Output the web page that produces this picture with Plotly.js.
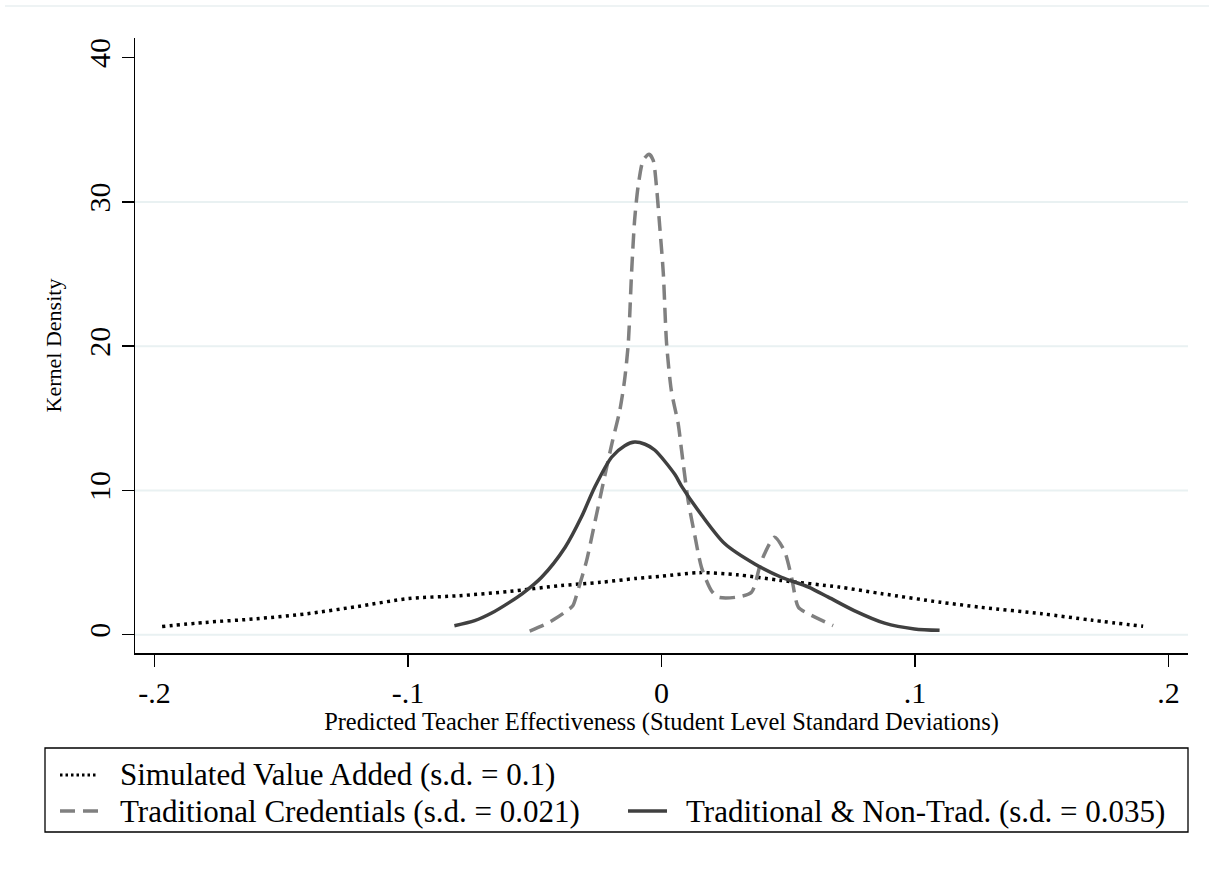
<!DOCTYPE html>
<html>
<head>
<meta charset="utf-8">
<script src="https://cdn.plot.ly/plotly-3.0.1.min.js"></script>
<style>
  html, body { margin: 0; padding: 0; background: #ffffff; }
  #chart { width: 1214px; height: 886px; }
</style>
</head>
<body>
<div id="chart"></div>
<script>
// ---- Data ----
const simX = [-0.197, -0.18, -0.16, -0.14, -0.12, -0.10, -0.08, -0.06, -0.04, -0.024, -0.01, 0.0, 0.015, 0.03, 0.047, 0.07, 0.087, 0.11, 0.126, 0.15, 0.17, 0.19];
const simY = [0.57, 0.85, 1.1, 1.45, 1.95, 2.5, 2.7, 3.0, 3.4, 3.63, 3.9, 4.05, 4.3, 4.15, 3.76, 3.3, 2.84, 2.25, 1.9, 1.45, 1.0, 0.58];

const tcX = [-0.052, -0.046, -0.042, -0.037, -0.035, -0.033, -0.0296, -0.0264, -0.023, -0.0195, -0.0165, -0.0146, -0.0131, -0.0118, -0.0106, -0.0092, -0.0072, -0.0049, -0.0033, -0.002, -0.0007, 0.0007, 0.002, 0.0039, 0.0066, 0.0079, 0.0105, 0.013, 0.0158, 0.0197, 0.0224, 0.0296, 0.0355, 0.0394, 0.0446, 0.0485, 0.0513, 0.054, 0.058, 0.0677];
const tcY = [0.25, 0.7, 1.1, 1.7, 2.0, 3.05, 5.1, 7.7, 10.5, 13.3, 15.5, 17.6, 20.2, 25.1, 28.75, 31.1, 32.9, 33.3, 32.9, 31.1, 28.3, 25.1, 20.2, 16.9, 14.6, 12.8, 9.3, 7.0, 4.65, 3.05, 2.6, 2.6, 2.94, 5.1, 6.76, 5.8, 3.98, 1.9, 1.45, 0.63];

const ntX = [-0.0817, -0.0737, -0.067, -0.06, -0.055, -0.0473, -0.038, -0.0316, -0.0264, -0.0197, -0.0145, -0.0106, -0.0065, -0.0027, 0.0053, 0.0079, 0.0158, 0.025, 0.0368, 0.0473, 0.058, 0.0658, 0.076, 0.088, 0.0998, 0.1097];
const ntY = [0.62, 0.97, 1.5, 2.24, 2.83, 3.98, 6.06, 8.15, 10.2, 12.3, 13.1, 13.35, 13.2, 12.8, 11.1, 10.3, 8.3, 6.3, 4.9, 3.98, 3.3, 2.6, 1.67, 0.8, 0.4, 0.3];

const seriesNames = [
  "Simulated Value Added (s.d. = 0.1)",
  "Traditional Credentials (s.d. = 0.021)",
  "Traditional &amp; Non-Trad. (s.d. = 0.035)"
];
const xTickVals = [-0.2, -0.1, 0, 0.1, 0.2];
const xTickText = ["-.2", "-.1", "0", ".1", ".2"];
const yTickVals = [0, 10, 20, 30, 40];
const yTickText = ["0", "10", "20", "30", "40"];
const gridVals = [0, 10, 20, 30];

// ---- Styles ----
const FONT = "Liberation Serif";
const dotStyle  = {color: "#000000", width: 3.5, dash: "3px,4.3px"};
const dashStyle = {color: "#808080", width: 3.5, dash: "15px,8px"};
const solidStyle = {color: "#404040", width: 3.5, dash: "solid"};

const traces = [
  {x: simX, y: simY, type: "scatter", mode: "lines", name: seriesNames[0],
   line: Object.assign({shape: "spline", smoothing: 0.8}, dotStyle), hoverinfo: "skip"},
  {x: tcX, y: tcY, type: "scatter", mode: "lines", name: seriesNames[1],
   line: Object.assign({shape: "spline", smoothing: 0.7}, dashStyle), hoverinfo: "skip"},
  {x: ntX, y: ntY, type: "scatter", mode: "lines", name: seriesNames[2],
   line: Object.assign({shape: "spline", smoothing: 0.8}, solidStyle), hoverinfo: "skip"}
];

// pixel -> paper helpers (plot area: x 135..1188, y 38..653)
const L = 135, R = 1188, T = 38, B = 653;
const px = v => (v - L) / (R - L);
const py = v => (B - v) / (B - T);

const shapes = [];
gridVals.forEach(g => shapes.push({
  type: "line", xref: "paper", yref: "y", x0: 0, x1: 1, y0: g, y1: g,
  line: {color: "#e9f1f2", width: 2}, layer: "below"
}));
// faint outer border line at top
shapes.push({type: "line", xref: "paper", yref: "paper", x0: px(5), x1: px(1209), y0: py(6), y1: py(6),
  line: {color: "#e8eff0", width: 1.5}});
// legend box
shapes.push({type: "rect", xref: "paper", yref: "paper", x0: px(45), x1: px(1188), y0: py(832), y1: py(748),
  line: {color: "#000000", width: 1.3}, fillcolor: "rgba(0,0,0,0)"});
// legend samples
const row1 = 775, row2 = 811;
shapes.push({type: "line", xref: "paper", yref: "paper", x0: px(60), x1: px(98), y0: py(row1), y1: py(row1), line: {color: dotStyle.color, width: 3, dash: "2.5px,3px"}});
shapes.push({type: "line", xref: "paper", yref: "paper", x0: px(60), x1: px(100), y0: py(row2), y1: py(row2), line: dashStyle});
shapes.push({type: "line", xref: "paper", yref: "paper", x0: px(628), x1: px(667), y0: py(row2), y1: py(row2), line: solidStyle});

const legendFont = {family: FONT, size: 31, color: "#000000"};
const annotations = [
  {xref: "paper", yref: "paper", x: px(118), y: py(row1), text: seriesNames[0], showarrow: false, xanchor: "left", yanchor: "middle", font: legendFont},
  {xref: "paper", yref: "paper", x: px(118), y: py(row2), text: seriesNames[1], showarrow: false, xanchor: "left", yanchor: "middle", font: legendFont},
  {xref: "paper", yref: "paper", x: px(684), y: py(row2), text: seriesNames[2], showarrow: false, xanchor: "left", yanchor: "middle", font: legendFont}
];

const layout = {
  width: 1214, height: 886,
  margin: {l: L, r: 1214 - R, t: T, b: 886 - B, pad: 0},
  paper_bgcolor: "#ffffff", plot_bgcolor: "#ffffff",
  showlegend: false,
  font: {family: FONT, color: "#000000"},
  xaxis: {
    range: [-0.2077, 0.2077], tickvals: xTickVals, ticktext: xTickText,
    ticks: "outside", ticklen: 12, tickwidth: 1.5, tickcolor: "#000000",
    showline: true, linecolor: "#000000", linewidth: 1.5, mirror: false,
    showgrid: false, zeroline: false,
    tickfont: {family: FONT, size: 30, color: "#000000"},
    title: {text: "Predicted Teacher Effectiveness (Student Level Standard Deviations)", font: {family: FONT, size: 24.4, color: "#000000"}, standoff: 0}
  },
  yaxis: {
    range: [-1.27, 41.36], tickvals: yTickVals, ticktext: yTickText, tickangle: -90,
    ticks: "outside", ticklen: 12, tickwidth: 1.5, tickcolor: "#000000",
    showline: true, linecolor: "#000000", linewidth: 1.5,
    showgrid: false, zeroline: false,
    tickfont: {family: FONT, size: 30, color: "#000000"},
    title: {text: "Kernel Density", font: {family: FONT, size: 22, color: "#000000"}, standoff: 15}
  },
  shapes: shapes,
  annotations: annotations
};

Plotly.newPlot("chart", traces, layout, {staticPlot: true, displayModeBar: false});
</script>
</body>
</html>
